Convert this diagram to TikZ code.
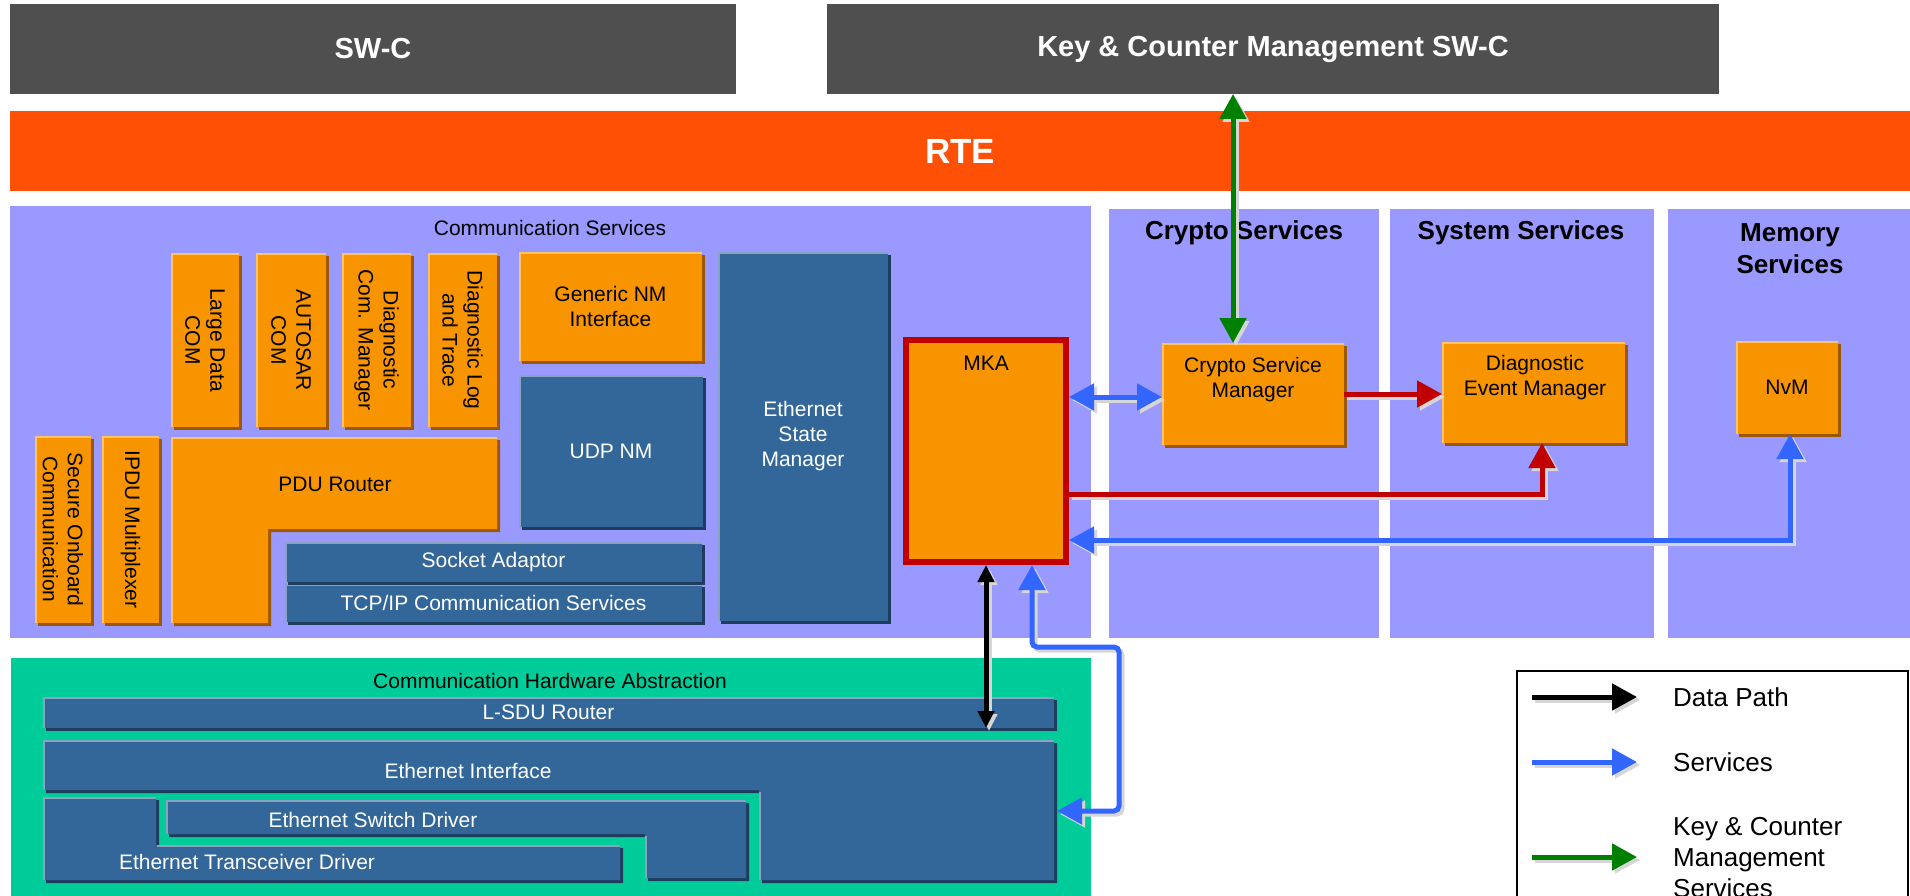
\documentclass[tikz,border=0pt]{standalone}
\usepackage{fontspec}
\setmainfont{Liberation Sans}
\usetikzlibrary{arrows.meta,shadows}
\definecolor{swcgray}{HTML}{4F4F4F}
\definecolor{rteorange}{HTML}{FF5005}
\definecolor{lav}{HTML}{9999FF}
\definecolor{hwgreen}{HTML}{00CC99}
\definecolor{orgc}{HTML}{F79400}
\definecolor{orgl}{HTML}{FFC266}
\definecolor{orgd}{HTML}{9C5800}
\definecolor{bluc}{HTML}{336699}
\definecolor{blul}{HTML}{8AA3C2}
\definecolor{blud}{HTML}{1E3D5E}
\definecolor{mkared}{HTML}{C00000}
\definecolor{arrblue}{HTML}{3366FF}
\definecolor{arrgreen}{HTML}{008000}
\definecolor{shd}{HTML}{D6D6D6}
\tikzset{
  fs/.style={font=\fontsize{21}{25}\selectfont},
  base/.style={inner sep=0pt, outer sep=0pt, draw=none, align=center, fs},
  obox/.style={base, fill=orgc,
    general shadow={fill=orgd, shadow xshift=3pt, shadow yshift=-3pt},
    path picture={\draw[orgl, line width=4pt] (path picture bounding box.south west) |- (path picture bounding box.north east);}},
  bbox/.style={base, fill=bluc, text=white,
    general shadow={fill=blud, shadow xshift=3pt, shadow yshift=-3pt},
    path picture={\draw[blul, line width=4pt] (path picture bounding box.south west) |- (path picture bounding box.north east);}},
  bgbox/.style={base, fill=lav},
  vtxt/.style={fs, rotate=-90, align=center, inner sep=0pt},
  txt/.style={fs, align=center, inner sep=0pt},
  hdr/.style={font=\fontsize{26}{32}\selectfont\bfseries, align=center, inner sep=0pt},
  legtxt/.style={font=\fontsize{26}{31}\selectfont, align=left, inner sep=0pt, anchor=west},
  conn/.style={line width=5pt},
  tipbig/.tip={Triangle[length=25pt,width=26pt]},
  tipsm/.tip={Triangle[length=17pt,width=16pt]},
  shadowed/.style={color=shd, transform canvas={shift={(3pt,-3pt)}}},
}
\begin{document}
\begin{tikzpicture}[x=1pt,y=-1pt]
\clip (0,0) rectangle (1910,896);
\fill[white] (0,0) rectangle (1910,896);

% top layers
\node[base, fill=swcgray, text=white, minimum width=726pt, minimum height=90pt, font=\fontsize{29}{34}\selectfont\bfseries] (swc) at (373,49) {SW-C};
\node[base, fill=swcgray, text=white, minimum width=892pt, minimum height=90pt, font=\fontsize{29}{34}\selectfont\bfseries] (kc) at (1273,49) {Key \& Counter Management SW-C};
\node[base, fill=rteorange, text=white, minimum width=1900pt, minimum height=80pt, font=\fontsize{35}{40}\selectfont\bfseries] (rte) at (960,151) {RTE};

% backgrounds
\node[bgbox, minimum width=1081pt, minimum height=432pt] (commbg) at (550.5,422) {};
\node[bgbox, minimum width=270pt, minimum height=429pt] (cryptobg) at (1244,423.5) {};
\node[bgbox, minimum width=264pt, minimum height=429pt] (sysbg) at (1522,423.5) {};
\node[bgbox, minimum width=242pt, minimum height=429pt] (membg) at (1789,423.5) {};
\node[base, fill=hwgreen, minimum width=1080pt, minimum height=242pt] (hwbg) at (551,779) {};

\node[txt] (commlbl) at (550,228) {Communication Services};
\node[hdr] (cryptolbl) at (1244,233) {Crypto Services};
\node[hdr] (syslbl) at (1521,233) {System Services};
\node[hdr] (memlbl) at (1790,249) {Memory\\Services};
\node[txt] (hwlbl) at (550,681) {Communication Hardware Abstraction};

% communication services
\node[obox, minimum width=68pt, minimum height=174pt] (ldc) at (205,340) {};
\node[vtxt] (ldct) at (ldc.center) {Large Data\\COM};
\node[obox, minimum width=70pt, minimum height=174pt] (acom) at (291,340) {};
\node[vtxt] (acomt) at (acom.center) {AUTOSAR\\COM};
\node[obox, minimum width=69pt, minimum height=174pt] (dcm) at (376.5,340) {};
\node[vtxt] (dcmt) at (dcm.center) {Diagnostic\\Com. Manager};
\node[obox, minimum width=69pt, minimum height=174pt] (dlt) at (462.5,340) {};
\node[vtxt] (dltt) at (dlt.center) {Diagnostic Log\\and Trace};
\node[obox, minimum width=183pt, minimum height=109pt] (gnm) at (610.5,306.5) {Generic NM\\Interface};
\node[bbox, minimum width=184pt, minimum height=152pt] (udpnm) at (611,451) {UDP NM};
\node[bbox, minimum width=417pt, minimum height=38pt] (tcpip) at (493.5,603) {TCP/IP Communication Services};
\node[bbox, minimum width=417pt, minimum height=40pt] (sock) at (493.5,562) {Socket Adaptor};
\node[bbox, minimum width=170pt, minimum height=369pt] (ethsm) at (803,436.5) {Ethernet\\State\\Manager};
\node[obox, minimum width=56pt, minimum height=187pt] (secoc) at (63,529.5) {};
\node[vtxt] (secoct) at (secoc.center) {Secure Onboard\\Communication};
\node[obox, minimum width=57pt, minimum height=187pt] (ipdum) at (130.5,529.5) {};
\node[vtxt] (ipdumt) at (ipdum.center) {IPDU Multiplexer};

% PDU router (L shape)
\fill[orgd, transform canvas={shift={(3pt,-3pt)}}] (171,437) -- (497,437) -- (497,529) -- (268,529) -- (268,623) -- (171,623) -- cycle;
\fill[orgc] (171,437) -- (497,437) -- (497,529) -- (268,529) -- (268,623) -- (171,623) -- cycle;
\draw[orgl, line width=2pt] (172,623) -- (172,438) -- (497,438);
\node[txt] (pdur) at (335,484) {PDU Router};

% MKA
\node[base, fill=orgc, draw=mkared, line width=6pt, outer sep=3pt, minimum width=160pt, minimum height=222pt,
  general shadow={fill=orgd, shadow xshift=3pt, shadow yshift=-3pt}] (mka) at (986,451) {};
\node[txt] (mkat) at (986,363) {MKA};

% crypto / system / memory
\node[obox, minimum width=182pt, minimum height=102pt] (csm) at (1253,394) {};
\node[txt] (csmt) at (1253,380) {Crypto Service\\Manager};
\node[obox, minimum width=183pt, minimum height=101pt] (dem) at (1533.5,392.5) {};
\node[txt] (demt) at (1535,377.5) {Diagnostic\\Event Manager};
\node[obox, minimum width=102pt, minimum height=93pt] (nvm) at (1787,387.5) {NvM};

% hardware abstraction
\node[bbox, minimum width=1011pt, minimum height=31pt] (lsdu) at (548.5,712.5) {L-SDU Router};
\fill[blud, transform canvas={shift={(3pt,-3pt)}}] (43,740) -- (1054,740) -- (1054,880) -- (759,880) -- (759,790) -- (43,790) -- cycle;
\fill[bluc] (43,740) -- (1054,740) -- (1054,880) -- (759,880) -- (759,790) -- (43,790) -- cycle;
\draw[blul, line width=2pt] (44,790) -- (44,741) -- (1054,741);
\draw[blul, line width=2pt] (760,880) -- (760,792);
\node[txt, text=white] (ethif) at (468,771) {Ethernet Interface};
\coordinate (ethifport) at (1057,811);

\fill[blud, transform canvas={shift={(3pt,-3pt)}}] (43,797) -- (156,797) -- (156,845) -- (620,845) -- (620,880) -- (43,880) -- cycle;
\fill[bluc] (43,797) -- (156,797) -- (156,845) -- (620,845) -- (620,880) -- (43,880) -- cycle;
\draw[blul, line width=2pt] (44,880) -- (44,798) -- (156,798);
\draw[blul, line width=2pt] (157,846) -- (620,846);
\node[txt, text=white] (ethtrcv) at (247,862) {Ethernet Transceiver Driver};

\fill[blud, transform canvas={shift={(3pt,-3pt)}}] (166,800) -- (746,800) -- (746,878) -- (645,878) -- (645,834) -- (166,834) -- cycle;
\fill[bluc] (166,800) -- (746,800) -- (746,878) -- (645,878) -- (645,834) -- (166,834) -- cycle;
\draw[blul, line width=2pt] (167,834) -- (167,801) -- (746,801);
\draw[blul, line width=2pt] (646,878) -- (646,836);
\node[txt, text=white] (ethswt) at (373,820) {Ethernet Switch Driver};

% connectors
\coordinate (gx) at (1233,0);
\coordinate (by1) at (0,397);
\coordinate (r2) at (1542,494);
\coordinate (b2) at (1790,540);
\coordinate (b3) at (1032,647);
\coordinate (b4) at (1119,811);

\draw[conn, tipbig-tipbig, shadowed] (gx |- kc.south) -- (gx |- csm.north);
\draw[conn, tipbig-tipbig, arrgreen] (gx |- kc.south) -- (gx |- csm.north);

\draw[conn, tipbig-tipbig, shadowed] (by1 -| mka.east) -- (by1 -| csm.west);
\draw[conn, tipbig-tipbig, arrblue] (by1 -| mka.east) -- (by1 -| csm.west);

\draw[conn, -tipbig, shadowed] (csm.east) -- (csm.east -| dem.west);
\draw[conn, -tipbig, mkared] (csm.east) -- (csm.east -| dem.west);

\draw[conn, -tipbig, shadowed] (r2 -| mka.east) -- (r2) -- (r2 |- dem.south);
\draw[conn, -tipbig, mkared] (r2 -| mka.east) -- (r2) -- (r2 |- dem.south);

\draw[conn, tipbig-tipbig, shadowed] (b2 -| mka.east) -- (b2) -- (b2 |- nvm.south);
\draw[conn, tipbig-tipbig, arrblue] (b2 -| mka.east) -- (b2) -- (b2 |- nvm.south);

\draw[conn, tipsm-tipsm, shadowed] (mka.south) -- (mka.south |- lsdu.south);
\draw[conn, tipsm-tipsm, black] (mka.south) -- (mka.south |- lsdu.south);

\draw[conn, tipbig-tipbig, rounded corners=5pt, shadowed] (b3 |- mka.south) -- (b3) -- (b3 -| b4) -- (b4) -- (ethifport);
\draw[conn, tipbig-tipbig, rounded corners=5pt, arrblue] (b3 |- mka.south) -- (b3) -- (b3 -| b4) -- (b4) -- (ethifport);

% legend
\node[draw=black, line width=1.5pt, fill=white, inner sep=0pt, outer sep=0pt, minimum width=391pt, minimum height=260pt] (legend) at (1712.5,801) {};
\coordinate (l1s) at (1532,697); \coordinate (l1e) at (1637,697);
\coordinate (l2s) at (1532,762); \coordinate (l2e) at (1637,762);
\coordinate (l3s) at (1532,857); \coordinate (l3e) at (1637,857);
\draw[conn, -tipbig, shadowed] (l1s) -- (l1e);
\draw[conn, -tipbig, black] (l1s) -- (l1e);
\draw[conn, -tipbig, shadowed] (l2s) -- (l2e);
\draw[conn, -tipbig, arrblue] (l2s) -- (l2e);
\draw[conn, -tipbig, shadowed] (l3s) -- (l3e);
\draw[conn, -tipbig, arrgreen] (l3s) -- (l3e);
\node[legtxt] (lt1) at (1673,697) {Data Path};
\node[legtxt] (lt2) at (1673,762) {Services};
\node[legtxt] (lt3) at (1673,858) {Key \& Counter\\Management\\Services};
\end{tikzpicture}
\end{document}
